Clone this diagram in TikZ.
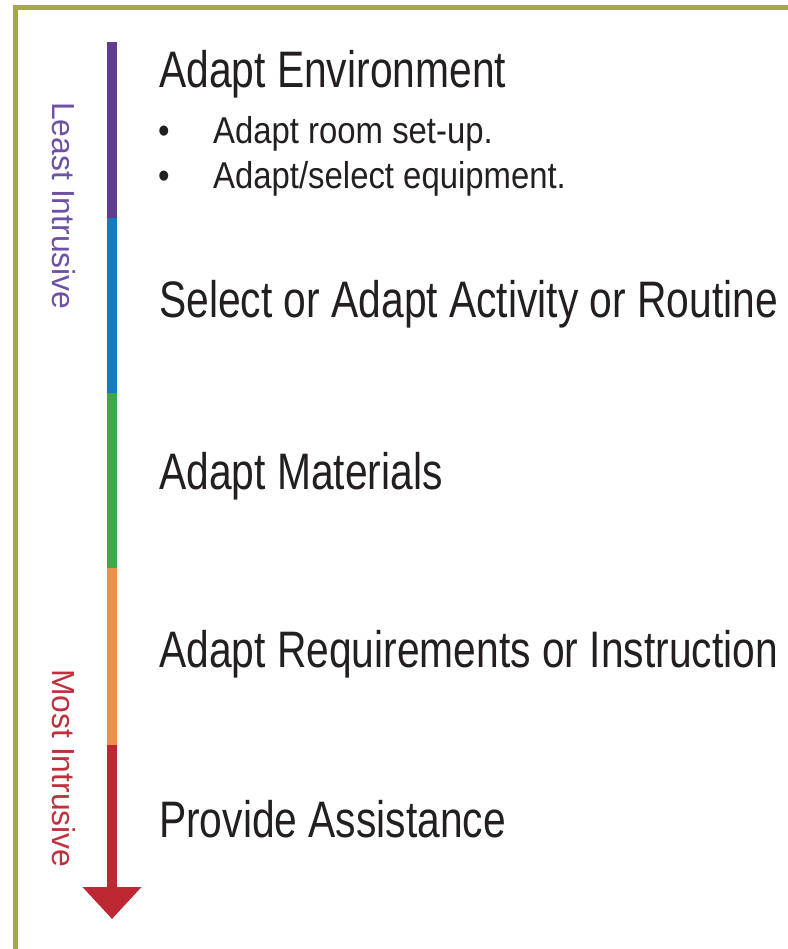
\documentclass[tikz,border=0pt]{standalone}
\usepackage{fontspec}
\setmainfont{Liberation Sans}
\newfontfamily\narrowfont{Liberation Sans}[FakeStretch=0.795]
\newfontfamily\pointfont{Liberation Sans}[FakeStretch=0.88]
\usepackage{xcolor}
\usetikzlibrary{positioning, arrows.meta}

\definecolor{frameolive}{RGB}{163,171,62}
\definecolor{barpurple}{RGB}{95,60,142}
\definecolor{barblue}{RGB}{20,125,190}
\definecolor{bargreen}{RGB}{60,170,70}
\definecolor{barorange}{RGB}{235,145,75}
\definecolor{barred}{RGB}{190,40,50}
\definecolor{leastpurple}{RGB}{110,80,165}
\definecolor{mostred}{RGB}{192,48,60}
\definecolor{textgray}{RGB}{35,31,32}

\begin{document}
\begin{tikzpicture}[x=1bp, y=-1bp,
        level/.style={inner sep=0pt, anchor=base west, text=textgray, font=\narrowfont\fontsize{51.5}{52}\selectfont},
        point/.style={inner sep=0pt, anchor=base west, text=textgray, font=\pointfont\fontsize{37.5}{38}\selectfont},
        side/.style={inner sep=0pt, anchor=base west, rotate=-90, font=\fontsize{32}{33}\selectfont},
        seg/.style={line width=10bp}]
        \useasboundingbox (0,0) rectangle (788,949);

        % frame
        \draw[frameolive, line width=5bp] (15,949) -- (15,7) -- (788,7);

        % scale bar
        \coordinate (b0) at (112,42);
        \coordinate (b1) at (112,218);
        \coordinate (b2) at (112,393);
        \coordinate (b3) at (112,568);
        \coordinate (b4) at (112,745);
        \coordinate (tip) at (112,919);

        \draw[seg, barpurple] (b0) -- (b1);
        \draw[seg, barblue] (b1) -- (b2);
        \draw[seg, bargreen] (b2) -- (b3);
        \draw[seg, barorange] (b3) -- (b4);
        \draw[seg, barred, -{Triangle[width=57bp, length=32bp]}] (b4) -- (tip);

        \node[side, text=leastpurple] (least) at (52,102) {Least Intrusive};
        \node[side, text=mostred] (most) at (52,669) {Most Intrusive};

        % levels
        \node[level] (env) at (159,87) {Adapt Environment};
        \node[point, anchor=base] (dot1) at (164,143) {•};
        \node[point] (room) at (213,143) {Adapt room set-up.};
        \node[point, anchor=base] (dot2) at (164,188) {•};
        \node[point] (equip) at (213,188) {Adapt/select equipment.};
        \node[level] (act) at (159,317) {Select or Adapt Activity or Routine};
        \node[level] (mat) at (159,489) {Adapt Materials};
        \node[level] (req) at (159,667) {Adapt Requirements or Instruction};
        \node[level] (assist) at (159,837) {Provide Assistance};
    \end{tikzpicture}
\end{document}
